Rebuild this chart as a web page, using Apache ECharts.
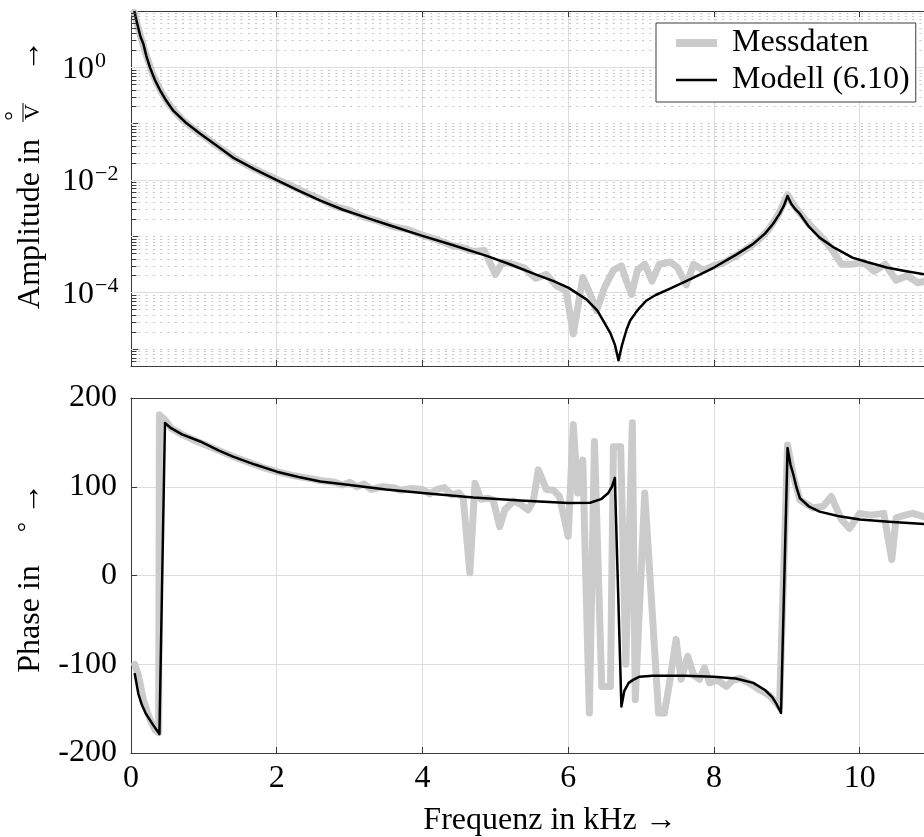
<!DOCTYPE html>
<html><head><meta charset="utf-8">
<script src="https://cdn.jsdelivr.net/npm/echarts@6/dist/echarts.min.js"></script>
<style>html,body{margin:0;padding:0;background:#fff}#c{width:924px;height:837px}</style>
</head><body><div id="c"></div>
<script>
// ---------- data ----------
// frequency in kHz
const measAmpF = [0.045,0.07,0.1,0.15,0.2,0.3,0.4,0.5,0.6,0.7,0.8,0.9,1.0,1.2,1.4,1.6,1.8,2.0,2.2,2.4,2.6,2.8,3.0,3.2,3.4,3.6,3.8,4.0,4.2,4.4,4.55,4.7,4.85,5.0,5.1,5.25,5.4,5.55,5.7,5.85,5.97,6.07,6.2,6.3,6.39,6.5,6.62,6.73,6.8,6.87,6.95,7.05,7.15,7.25,7.4,7.5,7.62,7.72,7.85,8.0,8.15,8.3,8.45,8.6,8.75,8.88,9.01,9.1,9.2,9.32,9.45,9.6,9.75,9.9,10.05,10.2,10.35,10.5,10.65,10.8,10.95,11.1];
const measAmp  = [9.5,6.9,5.0,2.95,1.78,0.74,0.40,0.24,0.166,0.12,0.093,0.074,0.060,0.039,0.0257,0.0182,0.0135,0.0102,0.0079,0.0059,0.0046,0.0034,0.0029,0.0022,0.00186,0.00148,0.00132,0.00105,8.7e-4,6.9e-4,6.3e-4,5.4e-4,5.6e-4,2.1e-4,3.5e-4,3.2e-4,2.75e-4,1.8e-4,2.1e-4,1.3e-4,1.1e-4,1.86e-5,1.86e-4,9.5e-5,4.8e-5,1.26e-4,2.5e-4,3.0e-4,1.6e-4,9.3e-5,2.5e-4,3.2e-4,1.6e-4,3.2e-4,3.5e-4,2.8e-4,1.38e-4,3.2e-4,2.5e-4,3.0e-4,3.5e-4,4.5e-4,6.0e-4,8.3e-4,1.32e-3,2.4e-3,5.5e-3,3.5e-3,2.4e-3,1.58e-3,1.05e-3,6.3e-4,3.2e-4,3.2e-4,3.5e-4,2.4e-4,3.2e-4,1.66e-4,2.0e-4,1.5e-4,1.66e-4,1.4e-4];

const modelAmpF = [0.045,0.07,0.1,0.13,0.17,0.21,0.26,0.33,0.4,0.48,0.58,0.75,0.95,1.15,1.4,1.7,2.0,2.3,2.6,2.9,3.28,3.6,4.0,4.4,4.88,5.2,5.56,5.8,6.0,6.25,6.4,6.48,6.58,6.64,6.69,6.74,6.8,6.85,6.92,6.98,7.07,7.2,7.39,7.7,8.0,8.3,8.53,8.7,8.81,8.9,8.96,9.01,9.06,9.12,9.18,9.3,9.45,9.65,9.9,10.1,10.37,10.6,10.9,11.5];
const modelAmp  = [10,7.2,5.0,3.5,2.6,1.6,1.0,0.59,0.39,0.26,0.17,0.105,0.066,0.043,0.025,0.0155,0.010,0.0065,0.0043,0.0030,0.00204,0.0015,0.00102,7.1e-4,4.5e-4,3.2e-4,2.1e-4,1.6e-4,1.23e-4,7.6e-5,4.8e-5,3.2e-5,1.9e-5,1.2e-5,6.3e-6,1.2e-5,2.2e-5,3.2e-5,4.3e-5,5.4e-5,7.2e-5,9.1e-5,1.17e-4,1.8e-4,2.8e-4,4.7e-4,7.2e-4,1.12e-3,1.66e-3,2.5e-3,3.5e-3,5.2e-3,3.8e-3,3.0e-3,2.5e-3,1.5e-3,9.5e-4,6.3e-4,4.2e-4,3.5e-4,2.8e-4,2.45e-4,2.1e-4,1.66e-4];

const measPhaseF = [0.05,0.1,0.17,0.25,0.33,0.38,0.39,0.47,0.55,0.7,0.85,1.0,1.2,1.4,1.6,1.8,2.0,2.2,2.4,2.6,2.8,2.9,3.0,3.1,3.2,3.3,3.45,3.6,3.7,3.85,4.0,4.1,4.2,4.3,4.4,4.5,4.56,4.65,4.72,4.8,4.9,4.97,5.06,5.13,5.25,5.35,5.45,5.52,5.59,5.7,5.8,5.88,6.0,6.07,6.13,6.2,6.29,6.36,6.46,6.58,6.62,6.72,6.79,6.88,6.92,7.05,7.24,7.32,7.39,7.48,7.55,7.64,7.72,7.8,7.87,7.94,8.05,8.17,8.26,8.36,8.5,8.63,8.76,8.9,9.01,9.09,9.18,9.36,9.5,9.61,9.75,9.86,10.0,10.15,10.33,10.44,10.5,10.62,10.73,10.9,11.1];
const measPhase  = [-100,-112,-140,-160,-174,-177,181,175,166,159,153,148,141,134,128,122,117,113,110,107,105,102,105,100,103,97,100,99,96,98,97,92,97,99,91,93,87,3,104,86,87,85,55,74,84,80,74,84,119,97,96,89,44,170,93,130,-155,151,-125,-125,145,145,-100,172,-140,93,-155,-155,-121,-72,-117,-91,-112,-117,-104,-121,-118,-125,-118,-116,-122,-129,-135,-148,147,112,85,76,78,89,63,53,70,68,70,18,65,68,70,66,64];

const modelPhaseF = [0.05,0.1,0.15,0.2,0.3,0.39,0.466,0.55,0.7,0.95,1.2,1.4,1.7,2.0,2.3,2.6,3.0,3.5,4.0,4.7,5.34,6.0,6.3,6.45,6.55,6.6,6.64,6.73,6.77,6.83,6.89,6.98,7.16,7.6,8.0,8.3,8.54,8.7,8.8,8.86,8.92,9.01,9.05,9.09,9.13,9.18,9.3,9.45,9.7,10.0,10.4,10.9,11.5];
const modelPhase  = [-110,-133,-146,-155,-168,-178.5,171.8,166,159,151,141,134,125,117,111,106,102,97,93,88,84.6,81.6,82,86,93,100,110,-147.7,-130,-121,-117.6,-114,-113,-113,-114,-116,-121,-129,-137,-145,-155,143.6,125,113.5,100,87,78,72,67,63,60.5,58,55];

const xTickLabels = [0,2,4,6,8,10];
const ampTickExponents = [0,-2,-4];
const phaseTicks = [-200,-100,0,100,200];

// ---------- styling ----------
const FONT = "'Liberation Serif', 'Times New Roman', serif";
const FRAME = '#3a3a3a';
const MAJOR = '#dcdcdc';
const MINOR = '#c4c4c4';
const GRAY = '#cbcbcb';

function pairs(xs, ys){ return xs.map((x,i)=>[x, ys[i]]); }

// grid lines + minor ticks for the logarithmic panel
const logGridLines = [];
const logMinorTicks = [];
for (let e = -6; e <= 0; e++) {
  for (let k = 1; k <= 9; k++) {
    const v = k * Math.pow(10, e);
    if (v < 5e-6 || v >= 10) continue;
    const isMajor = (k === 1 && ampTickExponents.indexOf(e) >= 0);
    logGridLines.push({yAxis: v, lineStyle: isMajor
      ? {type:'solid', color: MAJOR, width: 1}
      : {type:[2,5.3], color: MINOR, width: 1}});
    if (k !== 1) logMinorTicks.push([{coord:[0, v]}, {coord:[0.075, v]}]);
  }
}

function supLabel(v){
  const lg = Math.log10(v);
  const e = Math.round(lg);
  if (Math.abs(lg - e) > 1e-6) return '';
  if (ampTickExponents.indexOf(e) < 0) return '';
  return '{b|10}{s|' + (e < 0 ? '\u2212' + (-e) : e) + '}';
}

const xCommon = {type:'value', min:0, max:11.5, interval:2,
  axisLine:{show:true, onZero:false, lineStyle:{color:FRAME, width:1}},
  axisTick:{show:true, inside:true, length:6, lineStyle:{color:FRAME}},
  axisLabel:{show:false}, splitLine:{show:false}};

const option = {
  animation:false,
  backgroundColor:'#fff',
  textStyle:{fontFamily:FONT},
  grid:[
    {left:131, top:11, width:838, height:355, containLabel:false, outerBoundsMode:'none'},
    {left:131, top:398, width:838, height:355, containLabel:false, outerBoundsMode:'none'}
  ],
  xAxis:[
    Object.assign({}, xCommon, {gridIndex:0, position:'bottom', splitLine:{show:true, lineStyle:{color:MAJOR, width:1}}}),
    Object.assign({}, xCommon, {gridIndex:0, position:'top'}),
    Object.assign({}, xCommon, {gridIndex:1, position:'bottom',
      splitLine:{show:true, lineStyle:{color:MAJOR, width:1}},
      axisLabel:{show:true, margin:10, fontSize:32, color:'#000', fontFamily:FONT,
        formatter:(v)=> xTickLabels.indexOf(v) >= 0 ? String(v) : ''},
      name:'Frequenz in kHz \u2192', nameLocation:'middle', nameGap:52,
      nameTextStyle:{fontSize:32, color:'#000', fontFamily:FONT}}),
    Object.assign({}, xCommon, {gridIndex:1, position:'top'})
  ],
  yAxis:[
    {type:'log', logBase:10, gridIndex:0, min:5e-6, max:10,
      axisLine:{show:true, lineStyle:{color:FRAME, width:1}},
      axisTick:{show:true, inside:true, length:7, lineStyle:{color:FRAME}},
      splitLine:{show:false},
      axisLabel:{show:true, align:'left', margin:69, color:'#000', formatter:supLabel,
        rich:{
          b:{fontSize:32, fontFamily:FONT, color:'#000', lineHeight:36, verticalAlign:'bottom'},
          s:{fontSize:22, fontFamily:FONT, color:'#000', lineHeight:22, verticalAlign:'bottom', padding:[0,0,13,1]}
        }}},
    {type:'value', gridIndex:1, min:-200, max:200, interval:100,
      axisLine:{show:true, onZero:false, lineStyle:{color:FRAME, width:1}},
      axisTick:{show:true, inside:true, length:6, lineStyle:{color:FRAME}},
      splitLine:{show:true, lineStyle:{color:MAJOR, width:1}},
      axisLabel:{show:true, margin:14, fontSize:32, color:'#000', fontFamily:FONT,
        formatter:(v)=> phaseTicks.indexOf(v) >= 0 ? String(v) : ''}}
  ],
  legend:{
    left:656, top:23, orient:'vertical',
    padding:[4,6,6,16], itemGap:5, itemWidth:41, itemHeight:14,
    borderColor:FRAME, borderWidth:1, backgroundColor:'#fff',
    textStyle:{fontFamily:FONT, fontSize:32, color:'#000', lineHeight:32, padding:[0,0,0,10]},
    data:[
      {name:'Messdaten', lineStyle:{width:8, cap:'butt'}, itemStyle:{opacity:0}},
      {name:'Modell (6.10)', lineStyle:{width:2.5, cap:'butt'}, itemStyle:{opacity:0}}
    ],
    selectedMode:false
  },
  graphic:[
    {type:'group', x:31, y:315, rotation:Math.PI/2, children:[
      {type:'text', x:91, y:0, style:{text:'Amplitude in', font:'32px ' + FONT, fill:'#000', align:'center', verticalAlign:'middle'}},
      {type:'text', x:199, y:-16, style:{text:'\u00b0', font:'24px ' + FONT, fill:'#000', align:'center', verticalAlign:'middle'}},
      {type:'line', shape:{x1:193, y1:-8, x2:212, y2:-8}, style:{stroke:'#000', lineWidth:1}},
      {type:'text', x:203, y:2, style:{text:'V', font:'22px ' + FONT, fill:'#000', align:'center', verticalAlign:'middle'}},
      {type:'text', x:259, y:0, style:{text:'\u2192', font:'32px ' + FONT, fill:'#000', align:'center', verticalAlign:'middle'}}
    ]},
    {type:'group', x:31, y:680, rotation:Math.PI/2, children:[
      {type:'text', x:61, y:0, style:{text:'Phase in', font:'32px ' + FONT, fill:'#000', align:'center', verticalAlign:'middle'}},
      {type:'text', x:153, y:-4, style:{text:'\u00b0', font:'26px ' + FONT, fill:'#000', align:'center', verticalAlign:'middle'}},
      {type:'text', x:181, y:0, style:{text:'\u2192', font:'32px ' + FONT, fill:'#000', align:'center', verticalAlign:'middle'}}
    ]}
  ],
  series:[
    {name:'grid', type:'line', xAxisIndex:0, yAxisIndex:0, data:[], silent:true, z:1,
      markLine:{silent:true, z:1, precision:12, symbol:['none','none'], label:{show:false}, animation:false, data:logGridLines}},
    {name:'ticks', type:'line', xAxisIndex:0, yAxisIndex:0, data:[], silent:true, z:4,
      markLine:{silent:true, z:4, precision:12, symbol:['none','none'], label:{show:false}, animation:false,
        lineStyle:{type:'solid', color:FRAME, width:1}, data:logMinorTicks}},
    {name:'Messdaten', type:'line', xAxisIndex:0, yAxisIndex:0, data:pairs(measAmpF, measAmp),
      showSymbol:false, symbol:'none', z:2,
      lineStyle:{color:GRAY, width:7, cap:'round', join:'round'}, itemStyle:{color:GRAY}},
    {name:'Modell (6.10)', type:'line', xAxisIndex:0, yAxisIndex:0, data:pairs(modelAmpF, modelAmp),
      showSymbol:false, symbol:'none', z:3,
      lineStyle:{color:'#000', width:2.5, join:'round'}, itemStyle:{color:'#000'}},
    {name:'Messdaten', type:'line', xAxisIndex:2, yAxisIndex:1, data:pairs(measPhaseF, measPhase),
      showSymbol:false, symbol:'none', z:2,
      lineStyle:{color:GRAY, width:7, cap:'round', join:'round'}, itemStyle:{color:GRAY}},
    {name:'Modell (6.10)', type:'line', xAxisIndex:2, yAxisIndex:1, data:pairs(modelPhaseF, modelPhase),
      showSymbol:false, symbol:'none', z:3,
      lineStyle:{color:'#000', width:2.5, join:'round'}, itemStyle:{color:'#000'}}
  ]
};

const chart = echarts.init(document.getElementById('c'), null, {renderer:'canvas'});
chart.setOption(option);
</script>
</body></html>
